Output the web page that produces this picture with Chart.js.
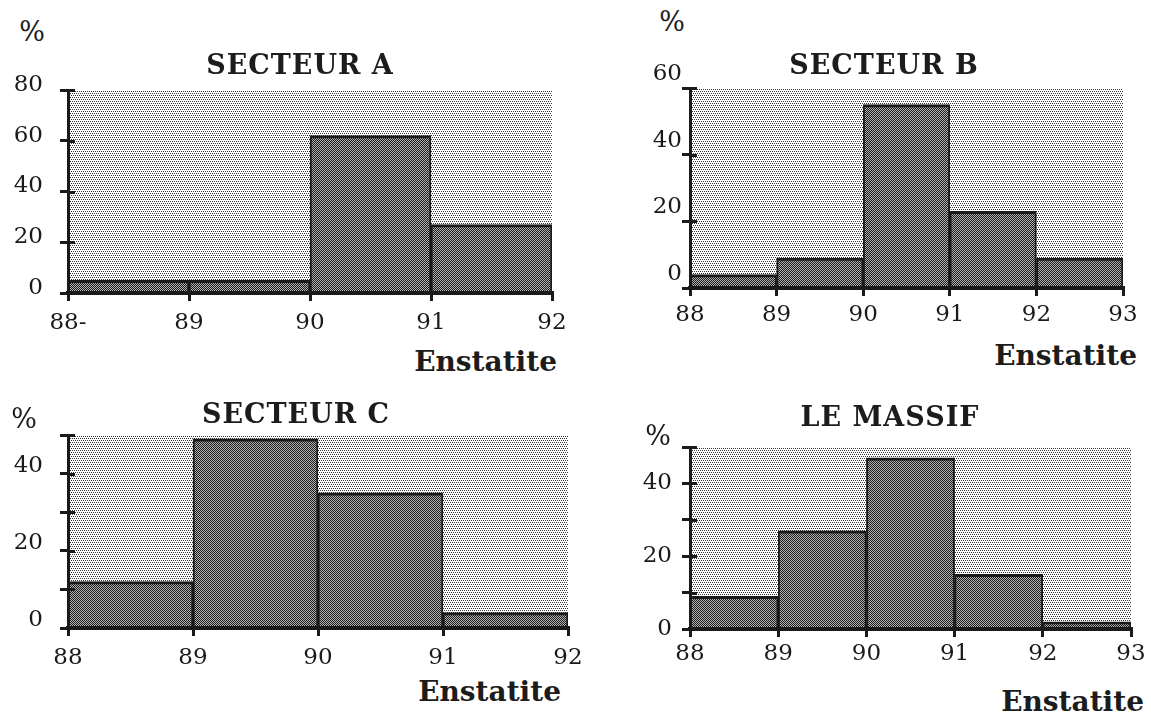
<!DOCTYPE html>
<html>
<head>
<meta charset="utf-8">
<title>Enstatite - secteurs</title>
<script src="https://cdn.jsdelivr.net/npm/chart.js@4.4.1/dist/chart.umd.min.js"></script>
<style>
  html, body { margin: 0; padding: 0; background: #fff; }
  body { width: 1151px; height: 718px; position: relative; overflow: hidden; font-family: "DejaVu Serif", serif; color: #1c1c1c; }
  canvas { position: absolute; }
  .lbl { position: absolute; white-space: nowrap; line-height: 1; }
  .title { font-weight: bold; font-size: 27px; letter-spacing: 1px; transform: translate(-50%, -50%); }
  .pct { font-size: 27px; transform: translate(-50%, -50%); }
  .axname { font-weight: bold; font-size: 28px; transform: translate(-100%, -50%); }
</style>
</head>
<body>
<script>
// histogram data (% of analyses per enstatite class)
const binStartA = [88, 89, 90, 91];
const pctA = [5, 5, 62, 27];
const xLabelsA = ["88-", "89", "90", "91", "92"];
const yLabelsA = ["0", "20", "40", "60", "80"];

const binStartB = [88, 89, 90, 91, 92];
const pctB = [4, 9, 55, 23, 9];
const xLabelsB = ["88", "89", "90", "91", "92", "93"];
const yLabelsB = ["0", "20", "40", "60"];

const binStartC = [88, 89, 90, 91];
const pctC = [12, 49, 35, 4];
const xLabelsC = ["88", "89", "90", "91", "92"];
const yLabelsC = ["0", "", "20", "", "40", ""];

const binStartD = [88, 89, 90, 91, 92];
const pctD = [9, 27, 47, 15, 2];
const xLabelsD = ["88", "89", "90", "91", "92", "93"];
const yLabelsD = ["0", "", "20", "", "40", ""];

const INK = "#1a1a1a";
const FONT = "DejaVu Serif";

// little halftone tiles like the old Mac fill patterns
function makePattern(size, dots, ink, paper) {
  const c = document.createElement("canvas");
  c.width = c.height = size;
  const g = c.getContext("2d");
  g.fillStyle = paper;
  g.fillRect(0, 0, size, size);
  g.fillStyle = ink;
  dots.forEach(([x, y]) => g.fillRect(x, y, 1, 1));
  return g.createPattern(c, "repeat");
}
const bgPattern = makePattern(4, [[0, 0], [2, 0], [1, 2], [3, 2]], "#333333", "#ffffff");
const barPattern = makePattern(2, [[0, 0], [1, 1]], "#1a1a1a", "#b4b4b4");

// paint the dotted field behind the bars
const plotFill = {
  id: "plotFill",
  beforeDatasetsDraw(chart) {
    const { ctx, chartArea: a } = chart;
    ctx.save();
    ctx.fillStyle = bgPattern;
    ctx.fillRect(a.left, a.top, a.right - a.left, a.bottom - a.top);
    ctx.restore();
  }
};

// y ticks also poke into the plot
const innerTicks = {
  id: "innerTicks",
  afterDraw(chart) {
    const y = chart.scales.y;
    const ctx = chart.ctx;
    ctx.save();
    ctx.strokeStyle = INK;
    ctx.lineWidth = 3;
    y.ticks.forEach((t, i) => {
      const py = Math.round(y.getPixelForTick(i)) + 0.5;
      ctx.beginPath();
      ctx.moveTo(y.right, py);
      ctx.lineTo(y.right + 7, py);
      ctx.stroke();
    });
    ctx.restore();
  }
};

const panels = [
  { title: "SECTEUR A", starts: binStartA, values: pctA, xLabels: xLabelsA, yLabels: yLabelsA, yStep: 20,
    box: { l: 68, r: 552, t: 90, b: 293 }, yPad: 17, yShift: -5, xPad: 8,
    titleAt: [300, 64], pctAt: [32, 31], nameAt: [557, 362] },
  { title: "SECTEUR B", starts: binStartB, values: pctB, xLabels: xLabelsB, yLabels: yLabelsB, yStep: 20,
    box: { l: 690, r: 1123, t: 88, b: 288 }, yPad: 0, yShift: -14, xPad: 5,
    titleAt: [884, 64], pctAt: [672, 21], nameAt: [1137, 356] },
  { title: "SECTEUR C", starts: binStartC, values: pctC, xLabels: xLabelsC, yLabels: yLabelsC, yStep: 10,
    box: { l: 68, r: 568, t: 435, b: 628 }, yPad: 17, yShift: -8, xPad: 8,
    titleAt: [296, 413], pctAt: [24, 418], nameAt: [561, 692] },
  { title: "LE MASSIF", starts: binStartD, values: pctD, xLabels: xLabelsD, yLabels: yLabelsD, yStep: 10,
    box: { l: 690, r: 1131, t: 447, b: 629 }, yPad: 10, yShift: 0, xPad: 3,
    titleAt: [890, 416], pctAt: [658, 435], nameAt: [1144, 702] }
];

function addText(text, cls, x, y) {
  const d = document.createElement("div");
  d.className = "lbl " + cls;
  d.textContent = text;
  d.style.left = x + "px";
  d.style.top = y + "px";
  document.body.appendChild(d);
}

const PAD_T = 25, PAD_R = 25, Y_W = 70, X_H = 45;

panels.forEach(p => {
  const canvas = document.createElement("canvas");
  const left = p.box.l - Y_W;
  const top = p.box.t - PAD_T;
  canvas.width = p.box.r + PAD_R - left;
  canvas.height = p.box.b + X_H - top;
  canvas.style.left = left + "px";
  canvas.style.top = top + "px";
  document.body.appendChild(canvas);

  const xMin = p.starts[0];
  const xMax = xMin + p.xLabels.length - 1;
  const yMax = (p.yLabels.length - 1) * p.yStep;

  new Chart(canvas, {
    type: "bar",
    data: {
      datasets: [{
        data: p.starts.map((s, i) => ({ x: s + 0.5, y: p.values[i] })),
        backgroundColor: barPattern,
        borderColor: INK,
        borderWidth: { top: 3, left: 2, right: 2, bottom: 0 },
        barPercentage: 1,
        categoryPercentage: 1
      }]
    },
    options: {
      responsive: false,
      animation: false,
      events: [],
      layout: { padding: { top: PAD_T, right: PAD_R, bottom: 0, left: 0 } },
      plugins: { legend: { display: false }, tooltip: { enabled: false } },
      scales: {
        x: {
          type: "linear",
          offset: false,
          min: xMin,
          max: xMax,
          grid: { offset: false, drawOnChartArea: false, color: INK, lineWidth: 3, tickLength: 8 },
          border: { display: true, color: INK, width: 4, z: 1 },
          ticks: {
            stepSize: 1,
            padding: p.xPad,
            color: INK,
            font: { family: FONT, size: 23 },
            callback: (v, i) => p.xLabels[i]
          },
          afterFit: s => { s.height = X_H; s.paddingLeft = 0; s.paddingRight = 0; }
        },
        y: {
          min: 0,
          max: yMax,
          grid: { drawOnChartArea: false, color: INK, lineWidth: 3, tickLength: 8 },
          border: { display: true, color: INK, width: 3, z: 1 },
          ticks: {
            stepSize: p.yStep,
            padding: p.yPad,
            labelOffset: p.yShift,
            color: INK,
            font: { family: FONT, size: 23 },
            callback: (v, i) => p.yLabels[i]
          },
          afterFit: s => { s.width = Y_W; s.paddingTop = 0; s.paddingBottom = 0; }
        }
      }
    },
    plugins: [plotFill, innerTicks]
  });

  addText(p.title, "title", p.titleAt[0], p.titleAt[1]);
  addText("%", "pct", p.pctAt[0], p.pctAt[1]);
  addText("Enstatite", "axname", p.nameAt[0], p.nameAt[1]);
});
</script>
</body>
</html>
